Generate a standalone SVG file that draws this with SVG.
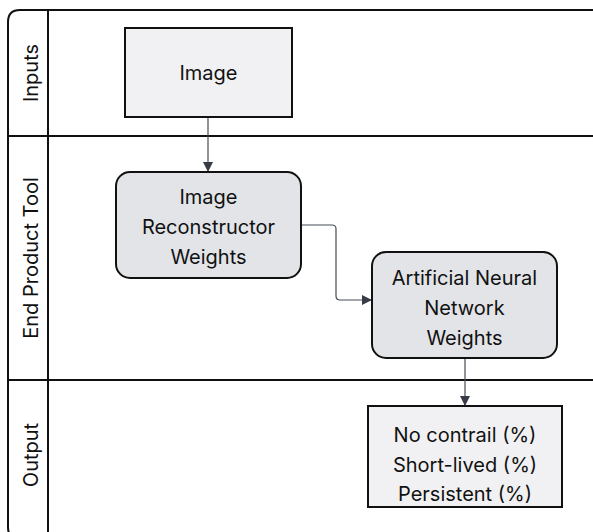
<svg xmlns="http://www.w3.org/2000/svg" width="593" height="532" viewBox="0 0 593 532">
<defs>
<style>
.lane{fill:none;stroke:#111;stroke-width:2}
.t{font-family:Inter,"Liberation Sans",sans-serif;font-size:20px;fill:#111;text-anchor:middle}
.sq{fill:#f1f1f3;stroke:#111;stroke-width:2}
.rd{fill:#e2e4e8;stroke:#111;stroke-width:2}
.c{fill:none;stroke:#474d57;stroke-width:1.2}
</style>
<marker id="ah" viewBox="0 0 10 10" refX="10" refY="5" markerWidth="10" markerHeight="10" markerUnits="userSpaceOnUse" orient="auto">
<path d="M0,0 L10,5 L0,10 z" fill="#363b45"/>
</marker>
</defs>
<g id="lanes">
<path class="lane" d="M600,10 H20 Q8,10 8,22 V527 Q8,539 20,539"/>
<line class="lane" x1="48" y1="10" x2="48" y2="540"/>
<line class="lane" x1="8" y1="136" x2="600" y2="136"/>
<line class="lane" x1="8" y1="380" x2="600" y2="380"/>
<text class="t" transform="translate(38,73) rotate(-90)">Inputs</text>
<text class="t" transform="translate(38,258) rotate(-90)">End Product Tool</text>
<text class="t" transform="translate(38,455) rotate(-90)">Output</text>
</g>
<g id="connectors">
<path class="c" d="M208,117 V172" marker-end="url(#ah)"/>
<path class="c" d="M301,225 H332 Q336,225 336,229 V296 Q336,300 340,300 H372" marker-end="url(#ah)"/>
<path class="c" d="M465,358 V406" marker-end="url(#ah)"/>
</g>
<g id="image">
<rect class="sq" x="125" y="28" width="167" height="89"/>
<text class="t" x="208.5" y="80">Image</text>
</g>
<g id="reconstructor">
<rect class="rd" x="116" y="172" width="185" height="106" rx="14"/>
<text class="t" x="208.5" y="204">Image</text>
<text class="t" x="208.5" y="234">Reconstructor</text>
<text class="t" x="208.5" y="264">Weights</text>
</g>
<g id="ann">
<rect class="rd" x="372" y="252" width="185" height="106" rx="14"/>
<text class="t" x="464.5" y="285">Artificial Neural</text>
<text class="t" x="464.5" y="315">Network</text>
<text class="t" x="464.5" y="345">Weights</text>
</g>
<g id="output">
<rect class="sq" x="368" y="406" width="194" height="101"/>
<text class="t" x="465" y="442">No contrail (%)</text>
<text class="t" x="465" y="472">Short-lived (%)</text>
<text class="t" x="465" y="501">Persistent (%)</text>
</g>
</svg>
